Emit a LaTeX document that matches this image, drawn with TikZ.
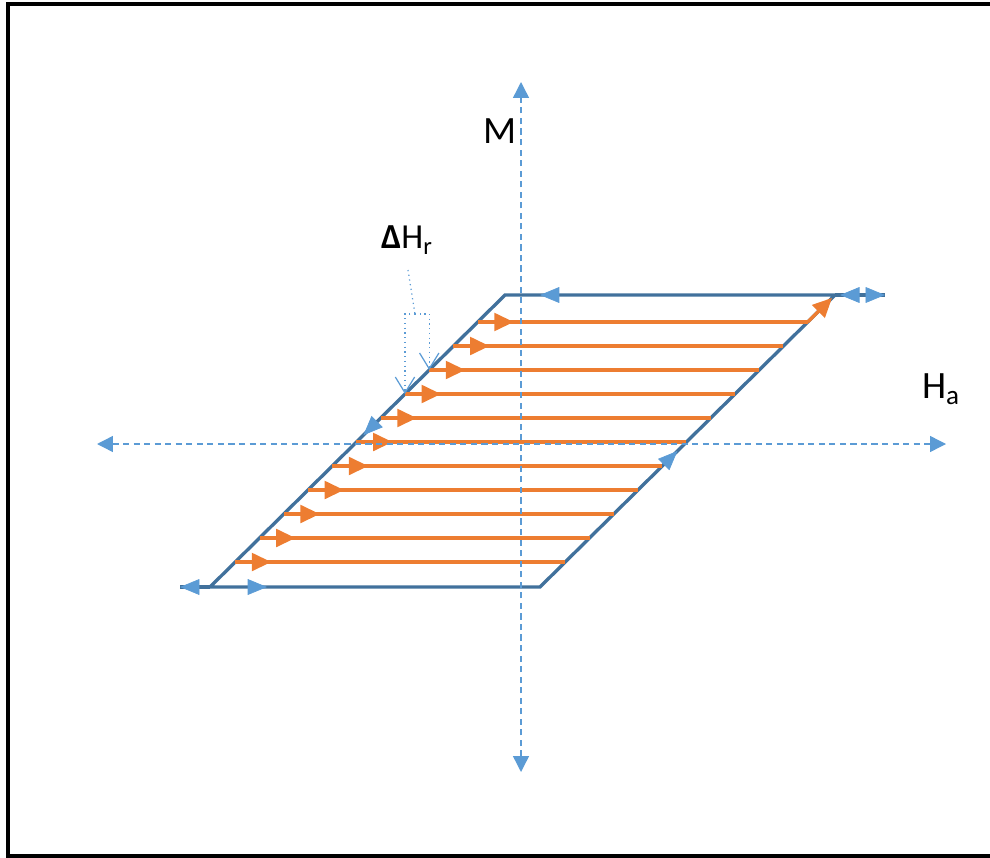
\documentclass[tikz,border=0pt]{standalone}
\usepackage{fontspec}
\setmainfont{Carlito}
\usetikzlibrary{arrows.meta, calc, decorations.markings}

\definecolor{loopblue}{HTML}{41719C}
\definecolor{axisblue}{HTML}{5B9BD5}
\definecolor{fluxorange}{HTML}{ED7D31}

\begin{document}
\begin{tikzpicture}[
    x=0.02cm, y=-0.02cm,
    loopline/.style={draw=loopblue, line width=1.9pt},
    flux/.style={draw=fluxorange, line width=1.9pt},
    axis/.style={draw=axisblue, line width=0.8pt, dash pattern=on 3.5pt off 2.5pt, {Triangle[length=9pt,width=9pt]}-{Triangle[length=9pt,width=9pt]}},
    bluetip/.style={postaction={decorate, decoration={markings, mark=at position #1 with {\arrow[axisblue]{Triangle[length=11pt,width=9pt]}}}}},
    callout/.style={draw=axisblue, line width=0.7pt, dotted},
    axislabel/.style={font=\fontsize{22}{26}\selectfont, inner sep=0pt}
]

\useasboundingbox (0,0) rectangle (990,858);

% frame (open on the right)
\draw[line width=2.3pt] (990,4) -- (8,4) -- (8,856) -- (990,856);

% corners of the loop
\coordinate (bl) at (210,587);
\coordinate (br) at (540,587);
\coordinate (tr) at (835,295);
\coordinate (tl) at (505,295);
\coordinate (bstub) at (180,587);
\coordinate (tstub) at (885,295);

% axes ends
\coordinate (hlo) at (97,444);
\coordinate (hhi) at (946,444);
\coordinate (mlo) at (521,772);
\coordinate (mhi) at (521,82);

% Outline of the loop
\draw[loopline, line join=miter] (bl) -- (br) -- (tr) -- (tl) -- cycle;
\draw[loopline] (bl) -- (bstub);
\draw[loopline] (tr) -- (tstub);

% Minor loops (orange)
\foreach \k in {0,...,10} {
    \pgfmathsetmacro{\t}{(265-24*\k)/292}
    \path ($(bl)!\t!(tl)$) coordinate (a\k) ($(br)!\t!(tr)$) coordinate (b\k);
    \draw[flux] (a\k) -- (b\k);
    \draw[flux, -{Triangle[length=11pt,width=10pt]}] (a\k) -- ++(36,0);
}
\draw[flux, -{Triangle[length=11pt,width=10pt]}] (b0) -- ($(br)!0.99!(tr)$);

% Axes
\draw[axis] (hlo) -- (hhi);
\draw[axis] (mlo) -- (mhi);

% Direction marks on the loop
\path[bluetip=0.2417] (bstub) -- (br);
\path[bluetip=0.999] (bl) -- (bstub);
\path[bluetip=0.466] (br) -- (tr);
\path[bluetip=0.118, bluetip=0.908] (tstub) -- (tl);
\path[bluetip=0.999] (tr) -- (tstub);
\path[bluetip=0.48] (tl) -- (bl);

% Labels
\node[axislabel] (mlab) at (500,131) {M};
\node[axislabel] (halab) at (941,389) {H\textsubscript{a}};
\node[font=\fontsize{20}{24}\selectfont, inner sep=0pt] (dh) at (407,240) {{\bfseries Δ}H\textsubscript{r}};

% Delta H_r callout
\coordinate (ctop) at (408,270);
\coordinate (cmid) at (415,314);
\draw[callout] (ctop) -- (cmid);
\draw[callout, -{Straight Barb[length=9pt,width=11pt]}] (cmid) -| (a3);
\draw[callout, -{Straight Barb[length=9pt,width=11pt]}] (cmid) -| (a2);

\end{tikzpicture}
\end{document}
